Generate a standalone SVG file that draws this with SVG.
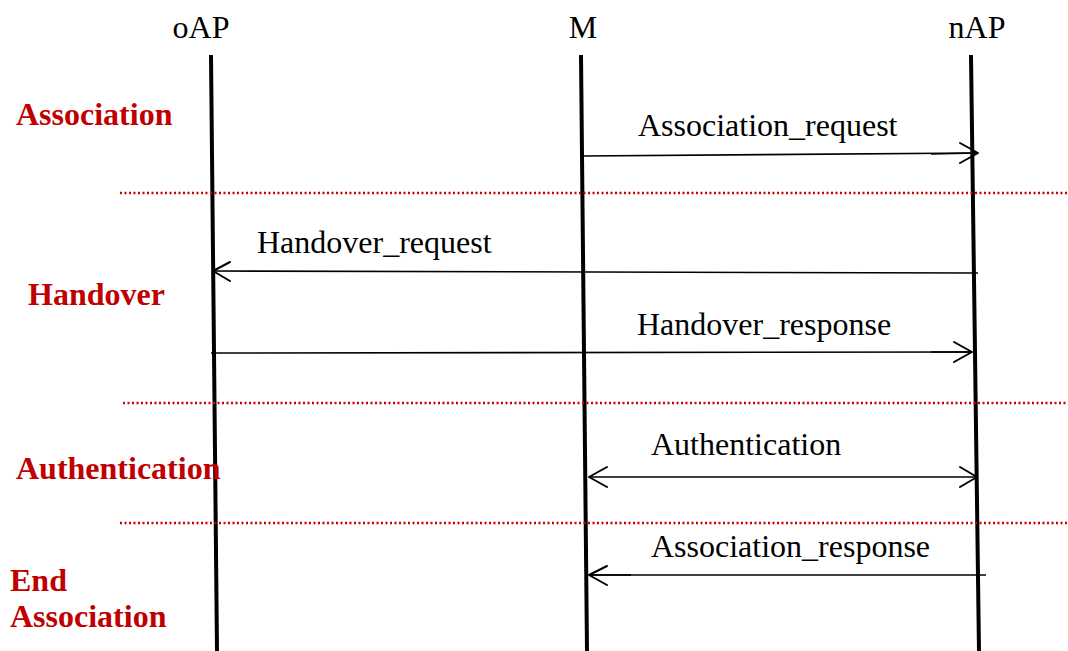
<svg xmlns="http://www.w3.org/2000/svg" width="1068" height="651" viewBox="0 0 1068 651">
<style>
.hdr{font-family:"Liberation Serif",serif;font-size:32px;fill:#000}
.msg{font-family:"Liberation Serif",serif;font-size:32px;fill:#000}
.phase{font-family:"Liberation Serif",serif;font-size:32px;font-weight:bold;fill:#c00000}
.life{stroke:#000;stroke-width:4;fill:none}
.sep{stroke:#d00000;stroke-width:2.5;stroke-dasharray:2 2.5;fill:none}
.arr{stroke:#000;stroke-width:1.6;fill:none}
.head{stroke:#000;stroke-width:2;fill:none;stroke-linecap:round;stroke-linejoin:round}
</style>
<rect width="1068" height="651" fill="#fff"/>
<g id="oAP">
<text class="hdr" x="201" y="38" text-anchor="middle">oAP</text>
<line class="life" x1="211" y1="55" x2="217" y2="651"/>
</g>
<g id="M">
<text class="hdr" x="583" y="38" text-anchor="middle">M</text>
<line class="life" x1="581" y1="55" x2="587" y2="651"/>
</g>
<g id="nAP">
<text class="hdr" x="977" y="38" text-anchor="middle">nAP</text>
<line class="life" x1="971" y1="55" x2="979" y2="651"/>
</g>
<g id="phases">
<text class="phase" x="16" y="125">Association</text>
<text class="phase" x="28" y="305">Handover</text>
<text class="phase" x="16" y="479">Authentication</text>
<text class="phase" x="10" y="591">End</text>
<text class="phase" x="10" y="627">Association</text>
</g>
<g id="separators">
<line class="sep" x1="120" y1="193" x2="1068" y2="193"/>
<line class="sep" x1="123" y1="403" x2="1068" y2="403"/>
<line class="sep" x1="120" y1="523" x2="1068" y2="523"/>
</g>
<g id="connectors">
<g id="assoc-req">
<line class="arr" x1="583" y1="156" x2="977" y2="153"/>
<line class="arr" x1="931" y1="154" x2="977" y2="153"/>
<polyline class="head" points="960,143 978,153 960,163"/>
<text class="msg" x="638" y="136">Association_request</text>
</g>
<g id="ho-req">
<line class="arr" x1="978" y1="273" x2="214" y2="271"/>
<polyline class="head" points="230,262 213,271 230,281"/>
<text class="msg" x="257" y="253">Handover_request</text>
</g>
<g id="ho-resp">
<line class="arr" x1="211" y1="353" x2="971" y2="352"/>
<line class="arr" x1="931" y1="352" x2="971" y2="352"/>
<polyline class="head" points="954,342 972,352 954,362"/>
<text class="msg" x="637" y="335">Handover_response</text>
</g>
<g id="auth">
<line class="arr" x1="590" y1="477" x2="977" y2="477"/>
<polyline class="head" points="607,467 589,477 607,487"/>
<polyline class="head" points="960,467 977,477 960,487"/>
<text class="msg" x="651" y="455">Authentication</text>
</g>
<g id="assoc-resp">
<line class="arr" x1="986" y1="575" x2="590" y2="575"/>
<line class="arr" x1="631" y1="575" x2="590" y2="575"/>
<polyline class="head" points="607,566 589,575 607,585"/>
<text class="msg" x="651" y="557">Association_response</text>
</g>
</g>
</svg>
